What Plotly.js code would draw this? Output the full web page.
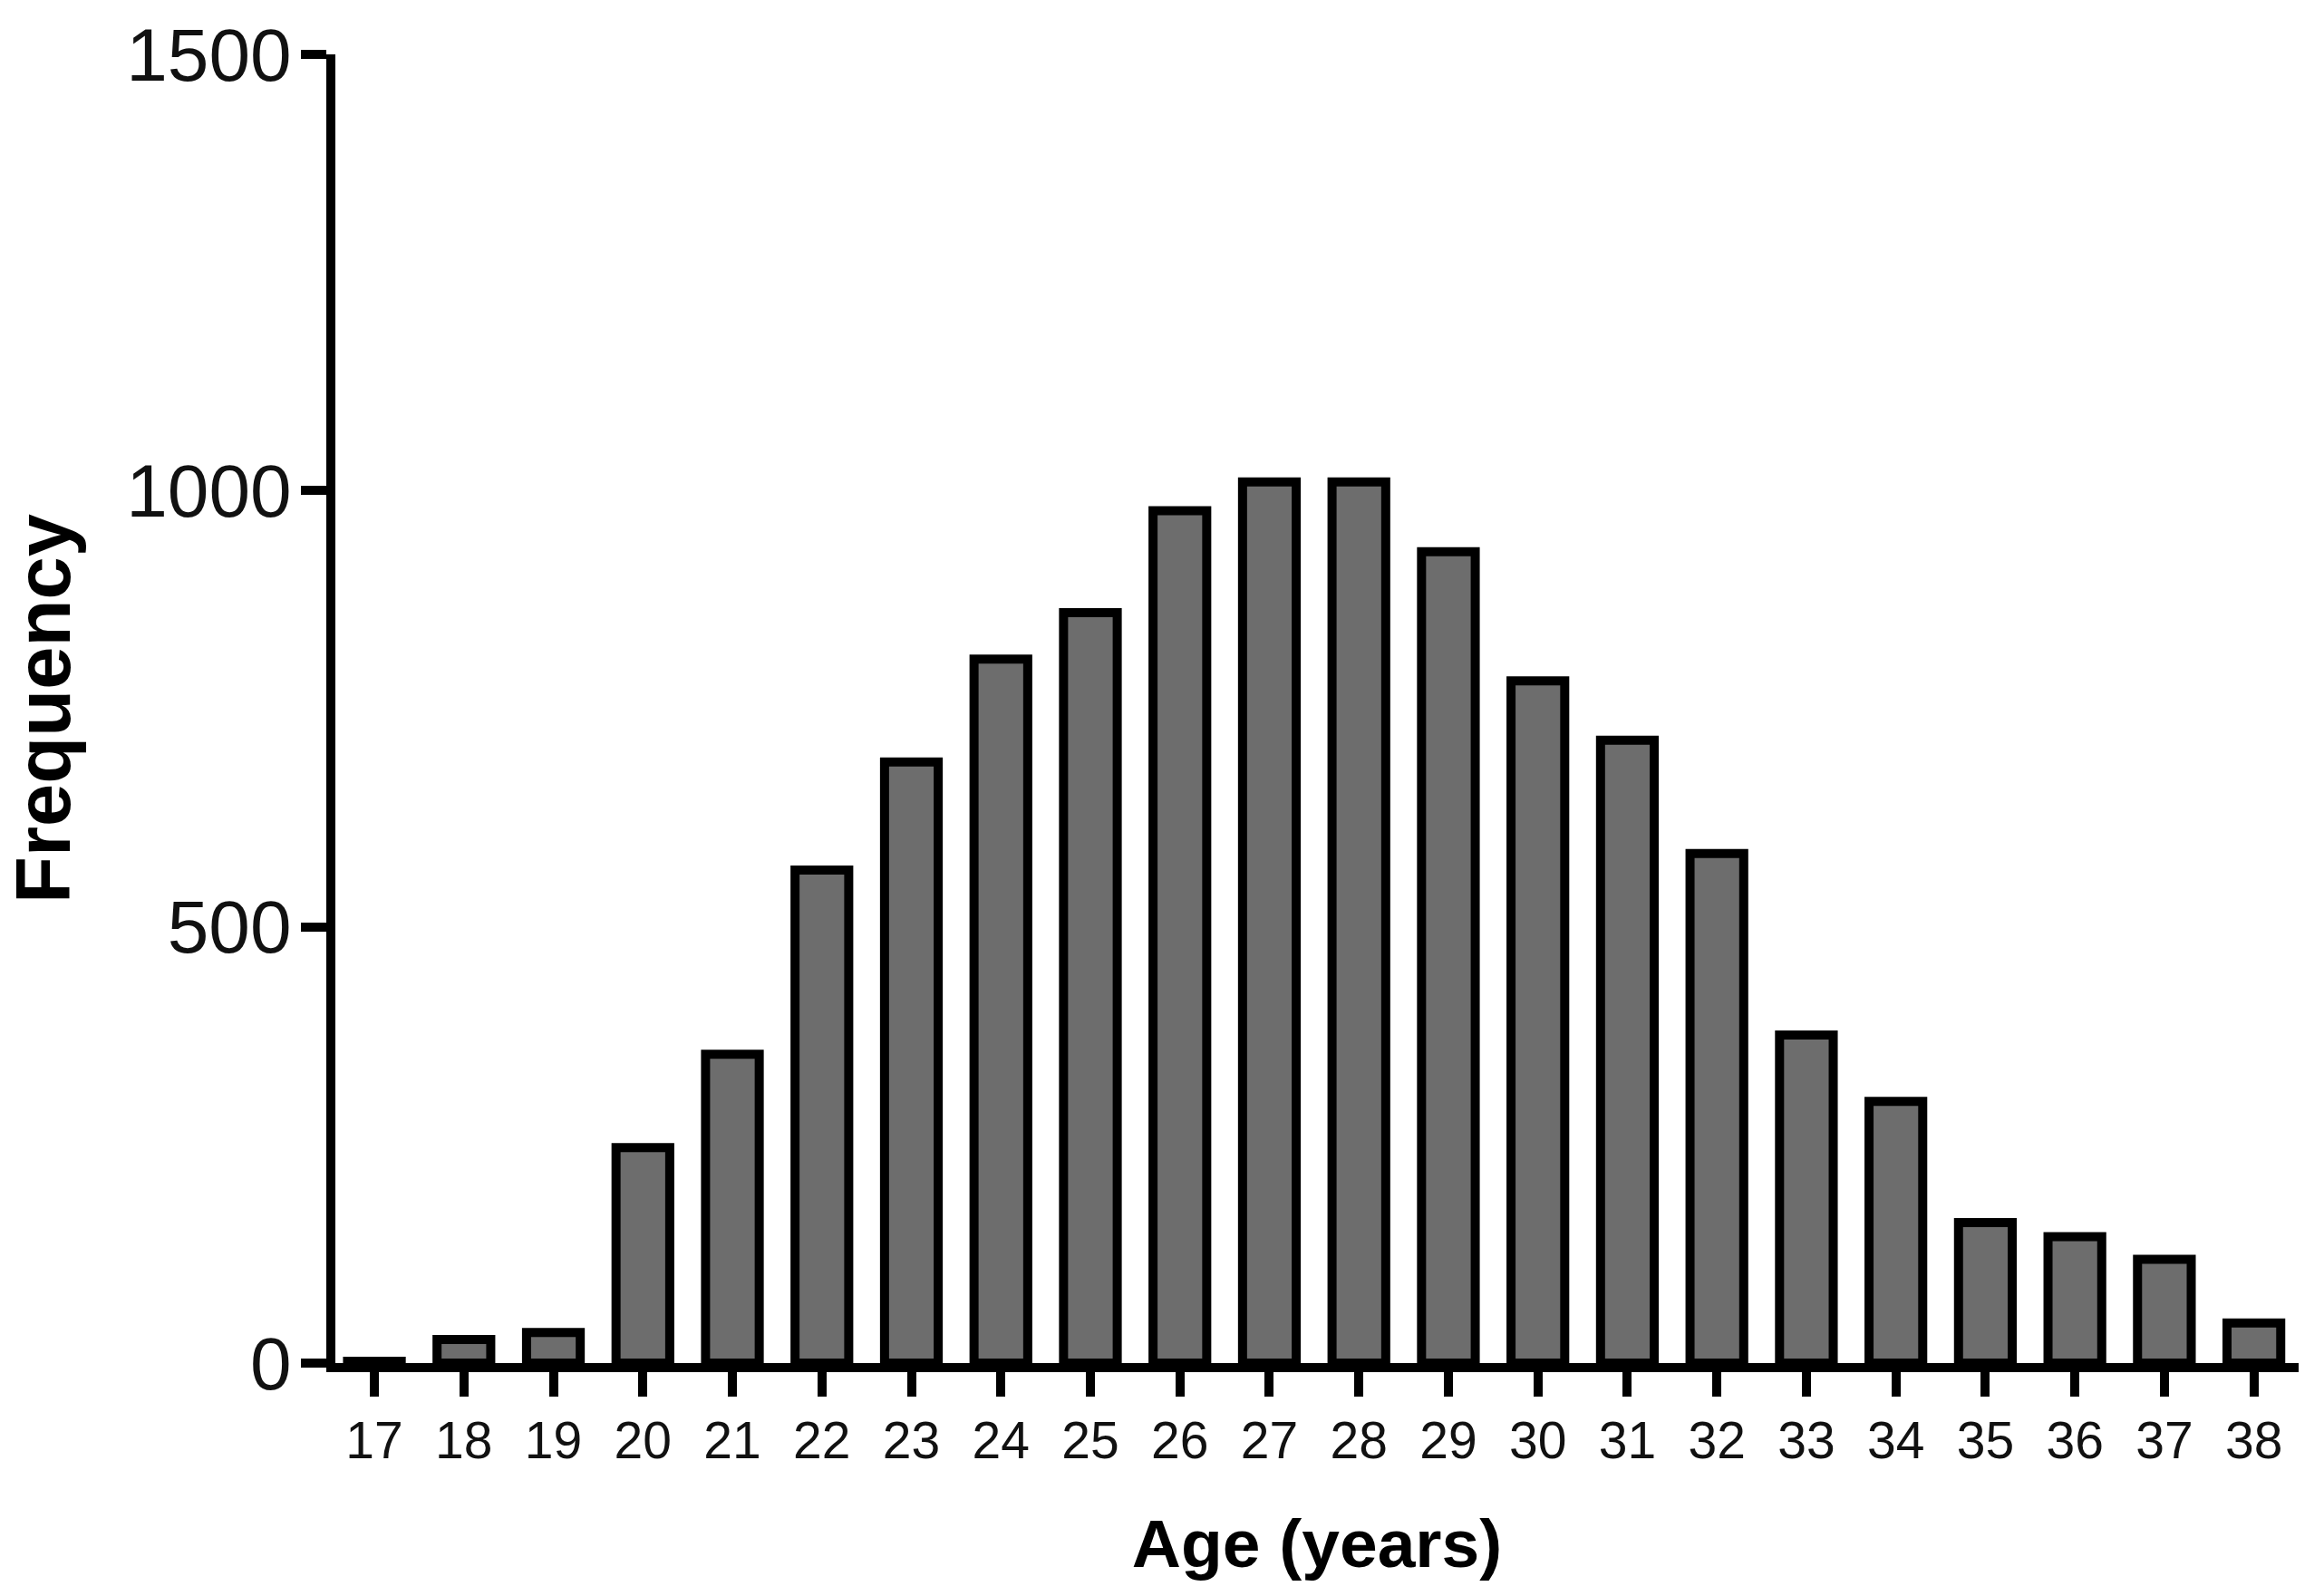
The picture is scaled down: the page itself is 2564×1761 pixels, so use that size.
<!DOCTYPE html>
<html>
<head>
<meta charset="utf-8">
<script src="https://cdn.plot.ly/plotly-3.0.1.min.js"></script>
<style>
  html, body { margin: 0; padding: 0; background: #ffffff; }
  #chart { width: 2564px; height: 1761px; }
</style>
</head>
<body>
<div id="chart"></div>
<script>
// Age categories (years)
const ages = [17, 18, 19, 20, 21, 22, 23, 24, 25, 26, 27, 28, 29, 30, 31, 32, 33, 34, 35, 36, 37, 38];
// Frequency per age
const frequency = [2, 27, 35, 247, 354, 565, 689, 807, 860, 977, 1010, 1010, 930, 782, 714, 584, 376, 300, 161, 145, 119, 46];
// Axis ticks
const yTickVals = [0, 500, 1000, 1500];
const yTickText = ["0", "500", "1000", "1500"];
const xTickText = ages.map(String);

const trace = {
  type: "bar",
  x: ages,
  y: frequency,
  width: 0.6,
  marker: {
    color: "#6d6d6d",
    line: { color: "#000000", width: 10 }
  },
  hoverinfo: "x+y"
};

const layout = {
  width: 2564,
  height: 1761,
  paper_bgcolor: "#ffffff",
  plot_bgcolor: "#ffffff",
  showlegend: false,
  margin: { l: 370, r: 28, t: 60, b: 257, pad: 0 },
  font: { family: "Liberation Sans, Arial, sans-serif", color: "#000000" },
  xaxis: {
    type: "linear",
    range: [16.564, 38.5],
    tickmode: "array",
    tickvals: ages,
    ticktext: xTickText,
    showgrid: false,
    zeroline: false,
    showline: true,
    linecolor: "#000000",
    linewidth: 10,
    ticks: "outside",
    ticklen: 27,
    tickwidth: 10,
    tickcolor: "#000000",
    tickfont: { size: 57, family: "Liberation Sans, Arial, sans-serif", color: "#111111" },
    automargin: false,
    title: {
      text: "Age (years)",
      font: { size: 75, family: "Liberation Sans, Arial, sans-serif", color: "#000000", weight: "bold" },
      standoff: 60
    },
    fixedrange: true
  },
  yaxis: {
    range: [0, 1500],
    tickmode: "array",
    tickvals: yTickVals,
    ticktext: yTickText,
    showgrid: false,
    zeroline: false,
    showline: true,
    linecolor: "#000000",
    linewidth: 10,
    ticks: "outside",
    ticklen: 28,
    tickwidth: 10,
    tickcolor: "#000000",
    ticklabelstandoff: -6,
    tickfont: { size: 82, family: "Liberation Sans, Arial, sans-serif", color: "#111111" },
    automargin: false,
    title: {
      text: "Frequency",
      font: { size: 85, family: "Liberation Sans, Arial, sans-serif", color: "#000000", weight: "bold" },
      standoff: 44
    },
    fixedrange: true
  }
};

Plotly.newPlot("chart", [trace], layout, { displayModeBar: false, staticPlot: true });
</script>
</body>
</html>
